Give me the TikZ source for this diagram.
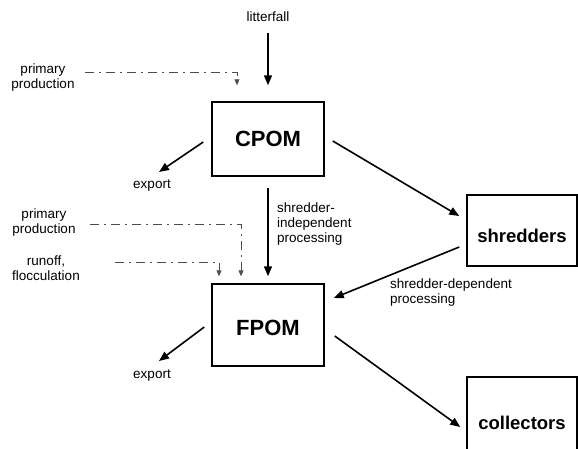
\documentclass[tikz,border=0pt]{standalone}
\usepackage{fontspec}
\setmainfont{Liberation Sans}
\usetikzlibrary{arrows.meta,calc}
\begin{document}
\begin{tikzpicture}[x=1pt,y=-1pt,
  box/.style={draw,line width=1.5pt,minimum width=112pt,minimum height=74pt,inner sep=0pt,font=\fontsize{22}{24}\selectfont\bfseries},
  sbox/.style={draw,line width=1.5pt,minimum width=110pt,inner sep=0pt,font=\fontsize{18.5}{20}\selectfont\bfseries},
  lbl/.style={font=\fontsize{13.5}{15}\selectfont,align=center,inner sep=0pt},
  flow/.style={line width=1.6pt,-{Triangle[length=10pt,width=8pt]}},
  dd/.style={line width=0.6pt,gray!60!black,dash pattern=on 9pt off 5pt on 2pt off 5pt,-{Triangle[length=6pt,width=5pt]}}]
\useasboundingbox (0,0) rectangle (578,448);
\clip (0,0) rectangle (578,448);
% boxes
\node[box] (cpom) at (268,139) {CPOM};
\node[box,minimum height=82pt,text height=22pt] (fpom) at (268,325) {FPOM};
\node[sbox,minimum height=71pt,text height=25pt] (shred) at (522,230.5) {shredders};
\node[sbox,minimum height=92pt] (coll) at (522,423) {collectors};
% labels
\node[lbl] (litter) at (268,17) {litterfall};
\node[lbl] (pp1) at (43,78) {primary\\production};
\node[lbl] (exp1) at (152,186) {export};
\node[lbl] (pp2) at (44,222.5) {primary\\production};
\node[lbl] (ro) at (46,268) {runoff,\\flocculation};
\node[lbl,align=left,anchor=west] (sip) at (277,224.5) {shredder-\\independent\\processing};
\node[lbl,align=left,anchor=west] (sdp) at (390,293) {shredder-dependent\\processing};
\node[lbl] (exp2) at (152,376) {export};
% flows
\draw[flow] ($(litter.south)+(0,10.5)$) -- ($(cpom.north)+(0,-16)$);
\draw[flow] ($(cpom.west)+(-8,3)$) -- ($(exp1)+(7,-14)$);
\draw[flow] ($(cpom.east)+(8,2)$) -- ($(shred.west)+(-7,-14.5)$);
\draw[flow] ($(cpom.south)+(0,11)$) -- ($(fpom.north)+(0,-7)$);
\draw[flow] ($(shred.west)+(-7,16.5)$) -- ($(fpom.east)+(9,-27)$);
\draw[flow] ($(fpom.west)+(-7,2)$) -- ($(exp2)+(7,-15)$);
\draw[flow] ($(fpom.east)+(10,11)$) -- ($(coll.west)+(-6,4)$);
% dash-dot inputs
\draw[dd] ($(pp1)+(42,-6)$) -| ($(cpom.north)+(-31,-16)$);
\draw[dd] ($(pp2)+(46,1.5)$) -| ($(fpom.north)+(-27,-7)$);
\draw[dd] ($(ro)+(69,-6)$) -| ($(fpom.north)+(-49,-7)$);
\end{tikzpicture}
\end{document}
